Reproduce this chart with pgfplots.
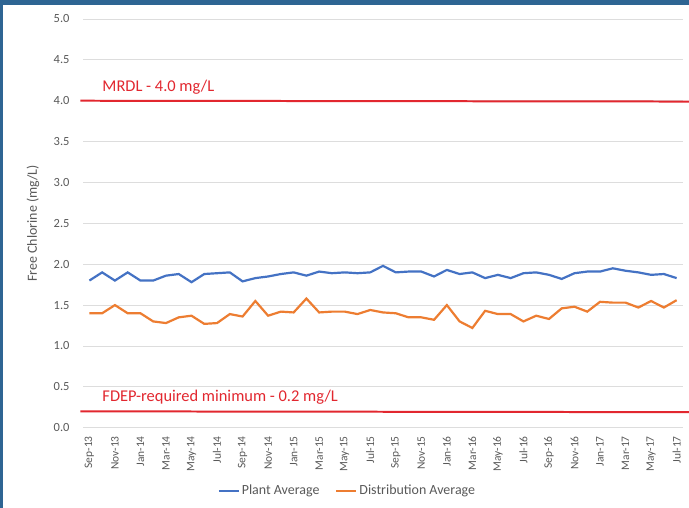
\documentclass[border=0pt]{standalone}
\usepackage{pgfplots}
\pgfplotsset{compat=1.18}
\usepackage{fontspec}
\setmainfont{Carlito}
\definecolor{plantblue}{HTML}{4472C4}
\definecolor{distorange}{HTML}{ED7D31}
\definecolor{limred}{HTML}{E2272F}
\definecolor{framebl}{HTML}{2E6593}
\definecolor{txtgray}{HTML}{595959}
\definecolor{gridgray}{HTML}{DDDDDD}
\begin{document}
\begin{tikzpicture}[x=1bp,y=1bp]
\useasboundingbox (0,0) rectangle (689,508);
\fill[white] (0,0) rectangle (689,508);
\fill[framebl] (0,503) rectangle (689,508);
\fill[framebl] (0,0) rectangle (3,508);
\begin{axis}[
  at={(83bp,80.3bp)}, anchor=south west,
  scale only axis, width=600bp, height=408.7bp,
  xmin=-0.5, xmax=46.5, ymin=0, ymax=5,
  clip=false,
  axis line style={draw=none},
  tick style={draw=none},
  ymajorgrids, grid style={gridgray, line width=0.8pt},
  ytick={0,0.5,...,5},
  /pgf/number format/assume math mode=true,
  yticklabel style={/pgf/number format/fixed, /pgf/number format/fixed zerofill, /pgf/number format/precision=1},
  yticklabel style={font=\fontsize{12.5}{13}\selectfont, text=txtgray, xshift=-10bp},
  xtick={0,2,...,46},
  xticklabels={Sep-13,Nov-13,Jan-14,Mar-14,May-14,Jul-14,Sep-14,Nov-14,Jan-15,Mar-15,May-15,Jul-15,Sep-15,Nov-15,Jan-16,Mar-16,May-16,Jul-16,Sep-16,Nov-16,Jan-17,Mar-17,May-17,Jul-17},
  xticklabel style={rotate=90, anchor=east, font=\fontsize{11.5}{12}\selectfont, text=txtgray, xshift=-5bp},
  ylabel={Free Chlorine (mg/L)},
  ylabel style={font=\fontsize{14}{15}\selectfont, text=txtgray, at={(-50bp,0.5)}, anchor=center},
  legend style={at={(267bp,-63bp)}, anchor=center, draw=none, legend columns=2, font=\fontsize{14}{15}\selectfont, text=txtgray, /tikz/every even column/.append style={column sep=14bp}},
  legend image code/.code={\draw[#1, line width=2pt] (0bp,0bp) -- (20bp,0bp);},
]
\addplot[plantblue, line width=2.2pt] table[x=i, y=v] {
i v
0 1.80
1 1.90
2 1.80
3 1.90
4 1.80
5 1.80
6 1.86
7 1.88
8 1.78
9 1.88
10 1.89
11 1.90
12 1.79
13 1.83
14 1.85
15 1.88
16 1.90
17 1.86
18 1.91
19 1.89
20 1.90
21 1.89
22 1.90
23 1.98
24 1.90
25 1.91
26 1.91
27 1.85
28 1.93
29 1.88
30 1.90
31 1.83
32 1.87
33 1.83
34 1.89
35 1.90
36 1.87
37 1.82
38 1.89
39 1.91
40 1.91
41 1.95
42 1.92
43 1.90
44 1.87
45 1.88
46 1.83
};
\addlegendentry{Plant Average}
\addplot[distorange, line width=2.2pt] table[x=i, y=v] {
i v
0 1.40
1 1.40
2 1.50
3 1.40
4 1.40
5 1.30
6 1.28
7 1.35
8 1.37
9 1.27
10 1.28
11 1.39
12 1.36
13 1.55
14 1.37
15 1.42
16 1.41
17 1.58
18 1.41
19 1.42
20 1.42
21 1.39
22 1.44
23 1.41
24 1.40
25 1.35
26 1.35
27 1.32
28 1.50
29 1.30
30 1.22
31 1.43
32 1.39
33 1.39
34 1.30
35 1.37
36 1.33
37 1.46
38 1.48
39 1.42
40 1.54
41 1.53
42 1.53
43 1.47
44 1.55
45 1.47
46 1.56
};
\addlegendentry{Distribution Average}
\addplot[limred, line width=2pt, forget plot] coordinates {(-0.7,4.0) (47.0,3.99)};
\addplot[limred, line width=2pt, forget plot] coordinates {(-0.7,0.2) (47.0,0.19)};
\node[anchor=west, text=limred, font=\fontsize{16.5}{18}\selectfont] at (axis cs:0.75,4.17) {MRDL - 4.0 mg/L};
\node[anchor=west, text=limred, font=\fontsize{16.5}{18}\selectfont] at (axis cs:0.75,0.37) {FDEP-required minimum - 0.2 mg/L};
\end{axis}
\end{tikzpicture}
\end{document}
